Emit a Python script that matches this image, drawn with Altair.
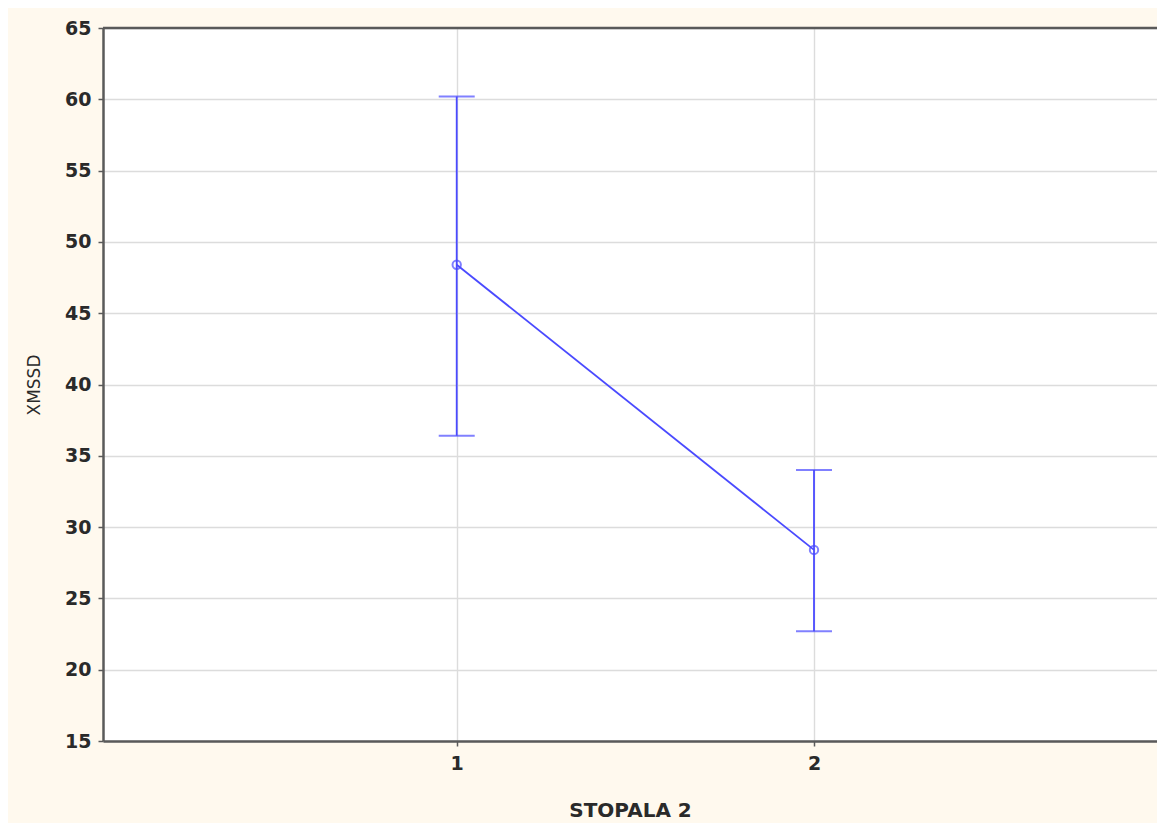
import altair as alt
import pandas as pd

groups = [1, 2]
means = [48.4, 28.4]
upper = [60.2, 34.0]
lower = [36.4, 22.7]

df = pd.DataFrame({"g": groups, "m": means, "hi": upper, "lo": lower})

BLUE = "#4a4aff"
FONT = "DejaVu Sans"
TXT = "#2a2a2a"

xscale = alt.Scale(domain=[0.01, 2.96], nice=False, zero=False)
yscale = alt.Scale(domain=[15, 65], nice=False, zero=False)

xaxis = alt.Axis(values=groups, title="STOPALA 2", format="d", grid=True,
                 gridColor="#dcdcdc", gridWidth=1.4,
                 domainColor="#5a5a5a", domainWidth=2.5,
                 tickColor="#5a5a5a", tickSize=5, tickWidth=1.5,
                 labelFont=FONT, labelFontSize=19, labelFontWeight="bold", labelColor=TXT, labelPadding=8,
                 titleFont=FONT, titleFontSize=20, titleFontWeight="bold", titleColor=TXT,
                 titlePadding=27)
yaxis = alt.Axis(values=list(range(15, 70, 5)), title="XMSSD", grid=True,
                 gridColor="#dcdcdc", gridWidth=1.4,
                 domainColor="#5a5a5a", domainWidth=2.5,
                 tickColor="#5a5a5a", tickSize=5, tickWidth=1.5,
                 labelFont=FONT, labelFontSize=19, labelFontWeight="bold", labelColor=TXT, labelPadding=7,
                 titleFont=FONT, titleFontSize=17, titleFontWeight="normal", titleColor=TXT,
                 titlePadding=21)

base = alt.Chart(df)

bars = base.mark_rule(color=BLUE, strokeWidth=1.8).encode(
    x=alt.X("g:Q", scale=xscale, axis=xaxis),
    y=alt.Y("lo:Q", scale=yscale, axis=yaxis),
    y2="hi:Q",
)
cap_hi = base.mark_tick(color=BLUE, orient="horizontal", size=36, thickness=2).encode(
    x=alt.X("g:Q", scale=xscale), y=alt.Y("hi:Q", scale=yscale))
cap_lo = base.mark_tick(color=BLUE, orient="horizontal", size=36, thickness=2).encode(
    x=alt.X("g:Q", scale=xscale), y=alt.Y("lo:Q", scale=yscale))
line = base.mark_line(color=BLUE, strokeWidth=1.8).encode(
    x=alt.X("g:Q", scale=xscale), y=alt.Y("m:Q", scale=yscale))
pts = base.mark_point(color=BLUE, shape="circle", size=70, strokeWidth=2, filled=False).encode(
    x=alt.X("g:Q", scale=xscale), y=alt.Y("m:Q", scale=yscale))
top = alt.Chart(pd.DataFrame({"v": [65]})).mark_rule(color="#5a5a5a", strokeWidth=2.5).encode(
    y=alt.Y("v:Q", scale=yscale))

chart = alt.layer(top, bars, cap_hi, cap_lo, line, pts).properties(
    width=1054, height=713,
    background="#fff9ee",
    padding={"left": 95, "top": 20, "right": 0, "bottom": 82},
    autosize=alt.AutoSizeParams(type="none"),
).configure_view(fill="white", stroke=None)

chart.save("out.html", embed_options={"renderer": "svg", "actions": False})
